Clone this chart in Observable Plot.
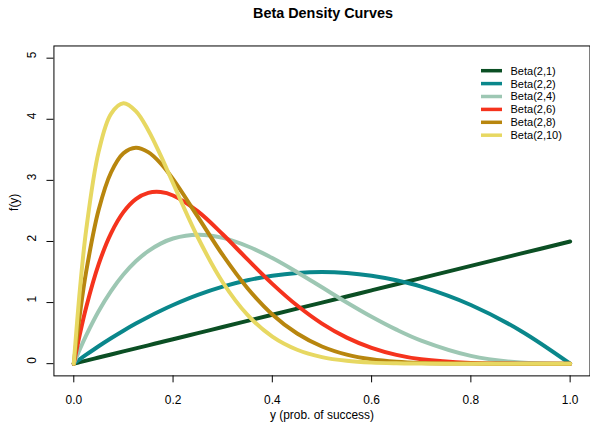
<!DOCTYPE html>
<html><head><meta charset="utf-8">
<script src="https://cdn.jsdelivr.net/npm/d3@7"></script>
<script src="https://cdn.jsdelivr.net/npm/@observablehq/plot@0.6"></script>
<style>
html,body{margin:0;padding:0;overflow:hidden;background:#fff;}
#wrap{position:relative;width:590px;height:424px;overflow:hidden;font-family:"Liberation Sans",Arial,Helvetica,sans-serif;}
#title{position:absolute;left:0;width:646px;top:4px;text-align:center;font-weight:bold;font-size:14.4px;line-height:18px;color:#000;}
#chart{position:absolute;left:0;top:0;}
#legend{position:absolute;left:0;top:0;}
</style>
</head><body>
<div id="wrap"><div id="chart"></div><div id="title">Beta Density Curves</div><svg id="legend" width="590" height="160"></svg></div>
<script>
const seriesNames = ["Beta(2,1)","Beta(2,2)","Beta(2,4)","Beta(2,6)","Beta(2,8)","Beta(2,10)"];
const seriesColors = ["#0b4f24","#0a878b","#9dc7b3","#f5331d","#b8860e","#e7d862"];
const xs = [0,0.0125,0.025,0.05,0.075,0.1,0.125,0.15,0.175,0.2,0.25,0.3,0.35,0.4,0.45,0.5,0.55,0.6,0.65,0.7,0.8,0.9,1.0];
const beta21 = [0,0.025,0.05,0.1,0.15,0.2,0.25,0.3,0.35,0.4,0.5,0.6,0.7,0.8,0.9,1.0,1.1,1.2,1.3,1.4,1.6,1.8,2.0];
const beta22 = [0,0.074,0.146,0.285,0.416,0.54,0.656,0.765,0.866,0.96,1.125,1.26,1.365,1.44,1.485,1.5,1.485,1.44,1.365,1.26,0.96,0.54,0];
const beta24 = [0,0.241,0.463,0.857,1.187,1.458,1.675,1.842,1.965,2.048,2.109,2.058,1.922,1.728,1.497,1.25,1.002,0.768,0.557,0.378,0.128,0.018,0];
const beta26 = [0,0.493,0.925,1.625,2.133,2.48,2.693,2.795,2.809,2.753,2.492,2.118,1.706,1.306,0.951,0.656,0.426,0.258,0.143,0.071,0.011,0,0];
const beta28 = [0,0.824,1.508,2.514,3.129,3.444,3.534,3.462,3.278,3.02,2.403,1.779,1.235,0.806,0.493,0.281,0.148,0.071,0.03,0.011,0.001,0,0];
const beta210 = [0,1.228,2.19,3.466,4.09,4.262,4.134,3.822,3.408,2.953,2.065,1.332,0.797,0.443,0.228,0.107,0.046,0.017,0.006,0.002,0,0,0];
const xTicks = [0,0.2,0.4,0.6,0.8,1.0];
const yTicks = [0,1,2,3,4,5];

const allSeries = [beta21,beta22,beta24,beta26,beta28,beta210];
const rows = [];
allSeries.forEach((s,i)=>s.forEach((v,j)=>rows.push({x:xs[j], y:v, series:seriesNames[i]})));

const plot = Plot.plot({
  width: 593, height: 424,
  marginLeft: 53.7, marginRight: 0.5, marginTop: 45.7, marginBottom: 46.7,
  style: {fontFamily: '"Liberation Sans",Arial,Helvetica,sans-serif', fontSize: "12px", background: "white", color: "black"},
  x: {domain: [-0.04, 1.04]},
  y: {domain: [-0.2, 5.2]},
  color: {domain: seriesNames, range: seriesColors},
  marks: [
    Plot.line(rows, {x:"x", y:"y", z:"series", stroke:"series", strokeWidth:4, curve:"catmull-rom", strokeLinecap:"round", strokeLinejoin:"round"}),
    Plot.frame({stroke:"black", strokeWidth:1}),
    Plot.axisX({ticks: xTicks, tickFormat: d3.format(".1f"), tickSize: 7, tickPadding: 13, label: null, fontSize: 12}),
    Plot.axisY({ticks: yTicks, tickFormat: () => "", tickSize: 7, label: null}),
    Plot.text(yTicks, {y: d=>d, text: d=>String(d), frameAnchor: "left", dx: -22, rotate: -90, fontSize: 12}),
    Plot.text(["f(y)"], {text: d=>d, frameAnchor: "left", dx: -39.5, rotate: -90, fontSize: 12}),
    Plot.text(["y (prob. of success)"], {text: d=>d, frameAnchor: "bottom", lineAnchor: "middle", dy: 39, fontSize: 12})
  ]
});
document.getElementById("chart").appendChild(plot);

const lg = d3.select("#legend");
seriesNames.forEach((name,i)=>{
  const yy = 70.7 + 12.9*i;
  lg.append("line").attr("x1",481).attr("x2",502).attr("y1",yy).attr("y2",yy)
    .attr("stroke",seriesColors[i]).attr("stroke-width",3.5);
  lg.append("text").attr("x",510.5).attr("y",yy).attr("dy","0.36em")
    .attr("font-family",'"Liberation Sans",Arial,Helvetica,sans-serif').attr("font-size","11px").text(name);
});
</script>
</body></html>
